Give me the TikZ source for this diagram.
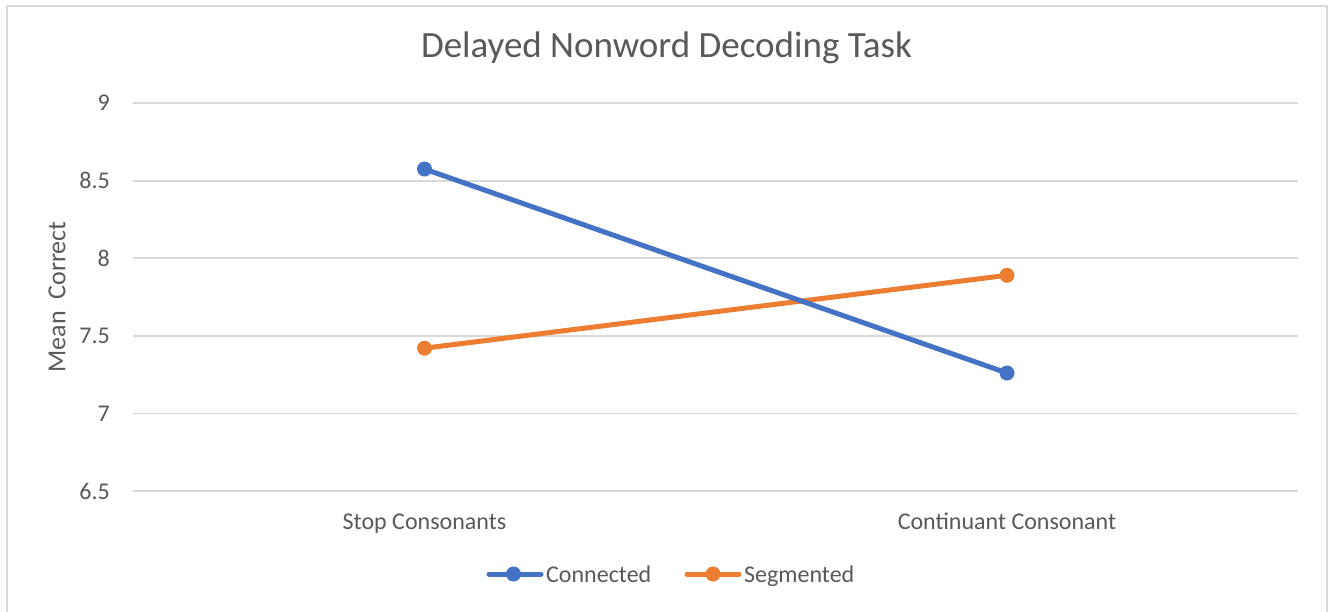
\documentclass[tikz,border=0pt]{standalone}
\usepackage{fontspec}
\setmainfont{Carlito}
\definecolor{txtgray}{HTML}{595959}
\definecolor{gridgray}{HTML}{D9D9D9}
\definecolor{serblue}{HTML}{4472C4}
\definecolor{serorange}{HTML}{ED7D31}
\begin{document}
\begin{tikzpicture}[x=1pt,y=-1pt,
  gridline/.style={draw=gridgray,line width=1.8pt},
  ticklab/.style={anchor=east,text=txtgray,font=\fontsize{24}{28}\selectfont,inner sep=0pt},
  catlab/.style={anchor=base,text=txtgray,font=\fontsize{24}{28}\selectfont,inner sep=0pt},
  leglab/.style={anchor=base west,text=txtgray,font=\fontsize{24}{28}\selectfont,inner sep=0pt},
  serline/.style={line width=5pt,line cap=round},
  dot/.style={circle,fill=#1,minimum size=15pt,inner sep=0pt,draw=none},
  pt/.style={coordinate}]
\useasboundingbox (0,0) rectangle (1333,611);
\clip (0,0) rectangle (1333,611);
\fill[white] (0,0) rectangle (1333,611);
\draw[gridgray,line width=2pt] (6.5,5.5) rectangle (1326.5,640);
% title
\node[text=txtgray,font=\fontsize{37}{44}\selectfont,inner sep=0pt] (title) at (666.5,48) {Delayed Nonword Decoding Task};
% grid and ticks
\foreach \v/\yy [count=\i] in {9/103,8.5/180.6,8/258.2,7.5/335.8,7/413.4,6.5/491}{
  \draw[gridline] (133,\yy) -- (1298,\yy);
  \node[ticklab] (tick\i) at (110,\yy) {\v};
}
% axis title
\node[rotate=90,text=txtgray,font=\fontsize{26}{30}\selectfont,inner sep=0pt] (ylab) at (57,297) {Mean\ \ Correct};
% category labels
\node[catlab] (cat1) at (424.5,529) {Stop Consonants};
\node[catlab] (cat2) at (1007,529) {Continuant Consonant};
% data points
\node[pt] (c1) at (424.5,169) {};
\node[pt] (c2) at (1007,373) {};
\node[pt] (s1) at (424.5,348.2) {};
\node[pt] (s2) at (1007,275.3) {};
\draw[serline,serorange] (s1) -- (s2);
\draw[serline,serblue] (c1) -- (c2);
\node[dot=serorange] (s1m) at (s1) {};
\node[dot=serorange] (s2m) at (s2) {};
\node[dot=serblue] (c1m) at (c1) {};
\node[dot=serblue] (c2m) at (c2) {};
% legend
\coordinate (lb1) at (489,574);
\coordinate (lb2) at (541,574);
\draw[serline,serblue] (lb1) -- (lb2);
\node[dot=serblue] (lbm) at (513.5,574) {};
\node[leglab] (legc) at (546,582.5) {Connected};
\coordinate (lo1) at (687,574);
\coordinate (lo2) at (739,574);
\draw[serline,serorange] (lo1) -- (lo2);
\node[dot=serorange] (lom) at (713,574) {};
\node[leglab] (legs) at (744,582.5) {Segmented};
\end{tikzpicture}
\end{document}
